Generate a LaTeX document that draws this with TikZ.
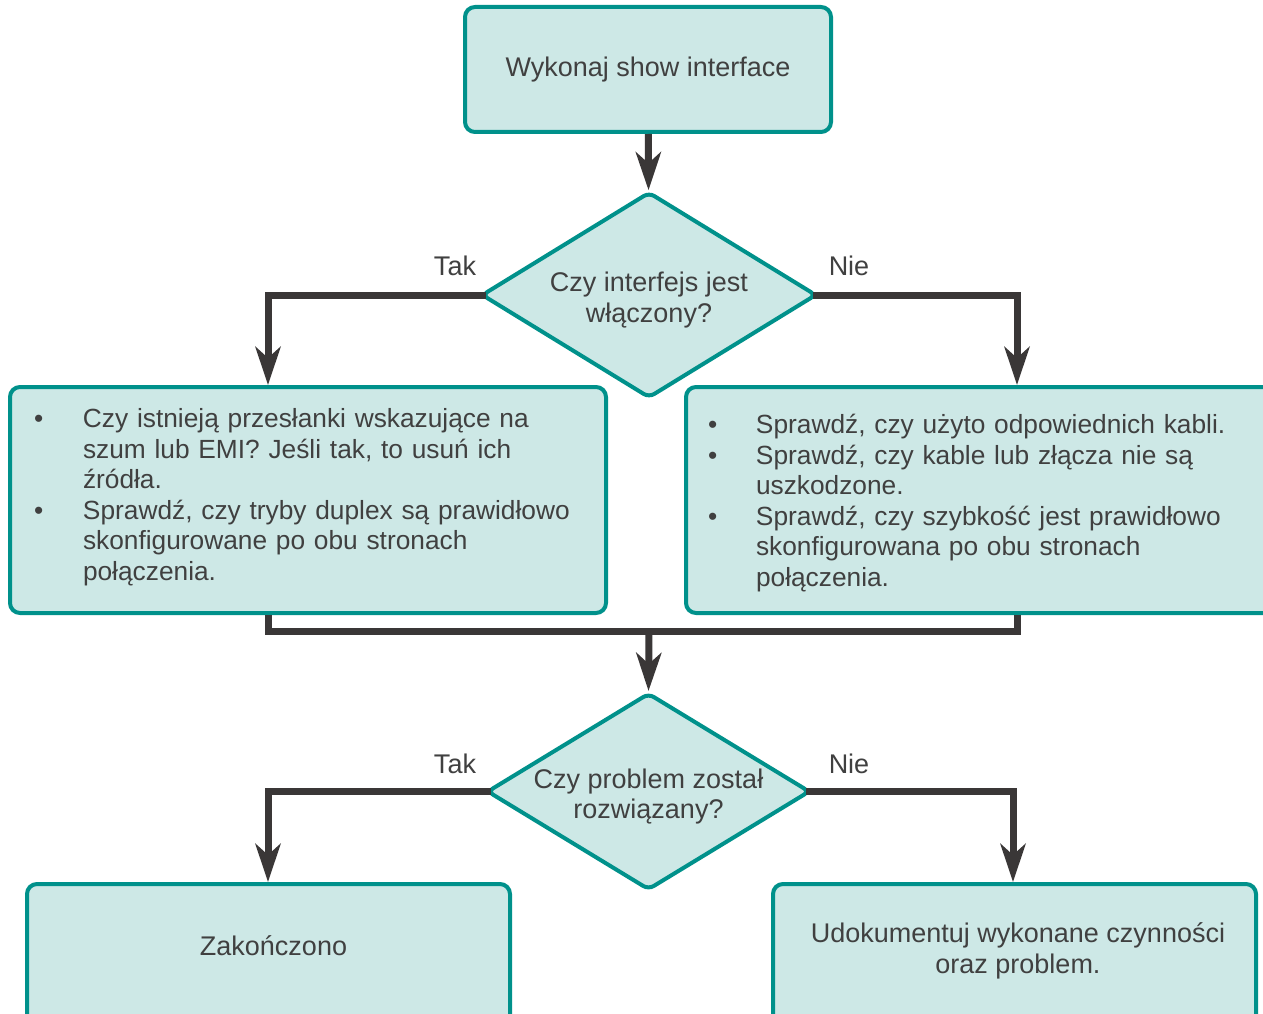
\documentclass[tikz,border=0pt]{standalone}
\usepackage{fontspec}
\setmainfont{Liberation Sans}
\usetikzlibrary{shapes.geometric,arrows.meta}
\definecolor{boxfill}{HTML}{CDE8E6}
\definecolor{boxedge}{HTML}{00918B}
\definecolor{flowline}{HTML}{3A3737}
\definecolor{txt}{HTML}{404040}
\newcommand\chartfont{\fontsize{27}{30.5}\selectfont}
\newcommand\listfont{\fontsize{26.3}{30.5}\selectfont}
% centred two-line text that takes no room inside a diamond
\newcommand\diamondtext[2]{\makebox[0pt]{\raisebox{-12pt}[0pt][0pt]{%
  \begin{tabular}{@{}c@{}}#1\\#2\end{tabular}}}}
\begin{document}
\begin{tikzpicture}[x=1pt,y=-1pt,
  procbox/.style={draw=boxedge, fill=boxfill, line width=4pt, rounded corners=10pt,
    text=txt, font=\chartfont, align=center, inner sep=0pt},
  listbox/.style={procbox, font=\listfont, align=left},
  decision/.style={diamond, draw=boxedge, fill=boxfill, line width=4pt,
    rounded corners=6pt, text=txt, font=\chartfont, inner sep=0pt},
  flow/.style={draw=flowline, line width=7pt},
  flowarrow/.style={flow, -{Stealth[length=38pt,width=25pt,inset=11pt]}},
  branch/.style={text=txt, font=\chartfont, inner sep=0pt}
]
\clip (0,0) rectangle (1263,1014);
\fill[white] (0,0) rectangle (1263,1014);

% process boxes and decisions
\node[procbox, minimum width=366pt, minimum height=125pt] (start) at (648,69.5)
  {Wykonaj show interface};
\node[decision, minimum width=335pt, minimum height=206pt] (d1) at (649,295)
  {\diamondtext{Czy interfejs jest}{włączony?}};

\node[listbox, minimum width=596pt, minimum height=226pt, text width=548pt] (lbox) at (308,500)
  {\noindent\raisebox{2pt}[\height][\depth]{\begin{tabular}{@{}p{49pt}@{}l@{}}
   \textbullet & Czy istnieją przesłanki wskazujące na\\
               & szum lub EMI? Jeśli tak, to usuń ich\\
               & źródła.\\
   \textbullet & Sprawdź, czy tryby duplex są prawidłowo\\
               & skonfigurowane po obu stronach\\
               & połączenia.
   \end{tabular}}};

\node[listbox, minimum width=604pt, minimum height=226pt, text width=560pt] (rbox) at (988,500)
  {\noindent\raisebox{-4pt}[\height][\depth]{\begin{tabular}{@{}p{48pt}@{}l@{}}
   \textbullet & Sprawdź, czy użyto odpowiednich kabli.\\
   \textbullet & Sprawdź, czy kable lub złącza nie są\\
               & uszkodzone.\\
   \textbullet & Sprawdź, czy szybkość jest prawidłowo\\
               & skonfigurowana po obu stronach\\
               & połączenia.
   \end{tabular}}};

\node[decision, minimum width=323pt, minimum height=197pt] (d2) at (648.5,791.5)
  {\diamondtext{Czy problem został}{rozwiązany?}};

\node[procbox, minimum width=483pt, minimum height=150pt] (done) at (268.5,959)
  {\hspace*{10pt}Zakończono\rule[-26pt]{0pt}{0pt}};
\node[procbox, minimum width=483pt, minimum height=150pt] (doc) at (1014.5,959)
  {\hspace*{7pt}Udokumentuj wykonane czynności\\\hspace*{7pt}oraz problem.\rule[-22pt]{0pt}{0pt}};

% branch labels
\node[branch] (tak1) at (455,266) {Tak};
\node[branch] (nie1) at (849,266) {Nie};
\node[branch] (tak2) at (455,764) {Tak};
\node[branch] (nie2) at (849,764) {Nie};

% connector columns
\coordinate (lx) at (268,0);
\coordinate (rx) at (1017,0);
\coordinate (lx2) at (268,0);
\coordinate (rx2) at (1013,0);
\coordinate (mj) at (649,631);

% connectors
\draw[flowarrow] (start) -- (d1);
\draw[flowarrow, shorten <=-6pt] (d1.west) -| (lbox.north -| lx);
\draw[flowarrow, shorten <=-6pt] (d1.east) -| (rbox.north -| rx);
\draw[flow] (lbox.south -| lx) |- (mj) -| (rbox.south -| rx);
\draw[flowarrow] (mj) -- (d2.north);
\draw[flowarrow, shorten <=-6pt] (d2.west) -| (done.north -| lx2);
\draw[flowarrow, shorten <=-6pt] (d2.east) -| (doc.north -| rx2);
\end{tikzpicture}
\end{document}
